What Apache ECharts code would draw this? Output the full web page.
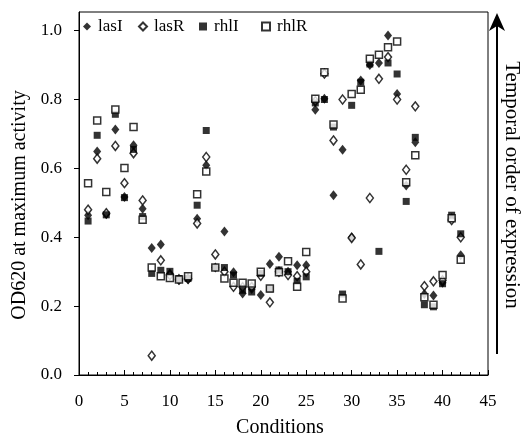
<!DOCTYPE html>
<html>
<head>
<meta charset="utf-8">
<script src="https://cdn.jsdelivr.net/npm/echarts@6/dist/echarts.min.js"></script>
<style>
html,body{margin:0;padding:0;background:#fff;}
#chart{width:523px;height:438px;}
</style>
</head>
<body>
<div id="chart"></div>
<script>
const conditions = [1,2,3,4,5,6,7,8,9,10,11,12,13,14,15,16,17,18,19,20,21,22,23,24,25,26,27,28,29,30,31,32,33,34,35,36,37,38,39,40,41,42];
const lasI = [0.464,0.649,0.467,0.713,0.517,0.667,0.483,0.369,0.379,0.295,0.275,0.277,0.454,0.609,0.312,0.417,0.298,0.237,0.250,0.232,0.322,0.343,0.300,0.319,0.319,0.770,0.802,0.522,0.654,0.400,0.855,0.900,0.906,0.986,0.816,0.550,0.676,0.235,0.231,0.268,0.455,0.348];
const lasR = [0.480,0.628,0.470,0.665,0.557,0.644,0.507,0.056,0.333,0.290,0.278,0.280,0.440,0.633,0.350,0.300,0.256,0.255,0.256,0.288,0.211,0.300,0.290,0.287,0.300,0.795,0.875,0.681,0.800,0.398,0.321,0.514,0.860,0.923,0.800,0.596,0.780,0.258,0.272,0.275,0.450,0.400];
const rhlI = [0.447,0.696,0.465,0.757,0.515,0.655,0.460,0.295,0.304,0.301,0.280,0.280,0.493,0.710,0.312,0.312,0.290,0.246,0.241,0.295,0.250,0.305,0.300,0.272,0.285,0.790,0.800,0.720,0.235,0.783,0.850,0.903,0.359,0.906,0.874,0.504,0.690,0.204,0.198,0.265,0.464,0.410];
const rhlR = [0.557,0.739,0.531,0.771,0.601,0.720,0.451,0.312,0.287,0.282,0.277,0.287,0.525,0.591,0.312,0.280,0.268,0.268,0.266,0.300,0.251,0.298,0.330,0.256,0.357,0.802,0.879,0.727,0.222,0.816,0.828,0.918,0.930,0.952,0.968,0.560,0.638,0.226,0.204,0.290,0.455,0.335];
const yTicks = [0,0.2,0.4,0.6,0.8,1.0];
const seriesNames = ['lasI','lasR','rhlI','rhlR'];

const pts = v => conditions.map((c,i)=>[c, v[i]]);
const font = "'Liberation Serif','Times New Roman',serif";
const chart = echarts.init(document.getElementById('chart'));
const filled = {color:'#000'};
const open = {color:'#fff', borderColor:'#000', borderWidth:1.5};
const legendLeft = [83,138,199,261];
chart.setOption({
  animation:false,
  backgroundColor:'#fff',
  textStyle:{fontFamily:font},
  grid:{left:79, right:35, top:12, bottom:63, show:true, borderColor:'#000', borderWidth:1},
  legend: seriesNames.map((n,i)=>({
    left:legendLeft[i], top:18, padding:0, itemWidth:8, itemHeight:8,
    textStyle:{fontFamily:font, fontSize:17, color:'#000', padding:[0,0,0,2]},
    data:[n]
  })),
  xAxis:{
    type:'value', min:0, max:45, interval:5,
    axisLine:{show:true, lineStyle:{color:'#000', width:1}},
    axisTick:{show:true, inside:true, length:5, lineStyle:{color:'#000'}},
    minorTick:{show:true, splitNumber:5, length:3, lineStyle:{color:'#000'}},
    axisLabel:{fontFamily:font, fontSize:17, color:'#000', margin:18},
    splitLine:{show:false}
  },
  yAxis:{
    type:'value', min:0, max:1.054,
    axisLine:{show:true, lineStyle:{color:'#000', width:1}},
    axisTick:{show:true, inside:false, length:5, customValues:yTicks, lineStyle:{color:'#000'}},
    axisLabel:{fontFamily:font, fontSize:17, color:'#000', margin:17, customValues:yTicks,
      formatter:v=>v.toFixed(1)},
    splitLine:{show:false}
  },
  graphic:[
    {type:'text', x:280, y:428,
      style:{text:'Conditions', fontFamily:font, fontSize:20, fill:'#000', align:'center', verticalAlign:'middle'}},
    {type:'text', x:20, y:205, rotation:Math.PI/2,
      style:{text:'OD620 at maximum activity', fontFamily:font, fontSize:20, fill:'#000', align:'center', verticalAlign:'middle'}},
    {type:'line', shape:{x1:497, y1:354, x2:497, y2:24}, style:{stroke:'#000', lineWidth:2}},
    {type:'polygon', shape:{points:[[497,13],[489,31],[497,26],[505,31]]}, style:{fill:'#000'}},
    {type:'text', x:512, y:185, rotation:-Math.PI/2,
      style:{text:'Temporal order of expression', fontFamily:font, fontSize:21, fill:'#000', align:'center', verticalAlign:'middle'}}
  ],
  series:[
    {name:'lasI', type:'scatter', symbol:'diamond', symbolSize:[8,10], itemStyle:filled, data:pts(lasI)},
    {name:'lasR', type:'scatter', symbol:'diamond', symbolSize:[7,9], itemStyle:open, data:pts(lasR)},
    {name:'rhlI', type:'scatter', symbol:'rect', symbolSize:7, itemStyle:filled, data:pts(rhlI)},
    {name:'rhlR', type:'scatter', symbol:'rect', symbolSize:7, itemStyle:open, data:pts(rhlR)}
  ]
});
</script>
</body>
</html>
